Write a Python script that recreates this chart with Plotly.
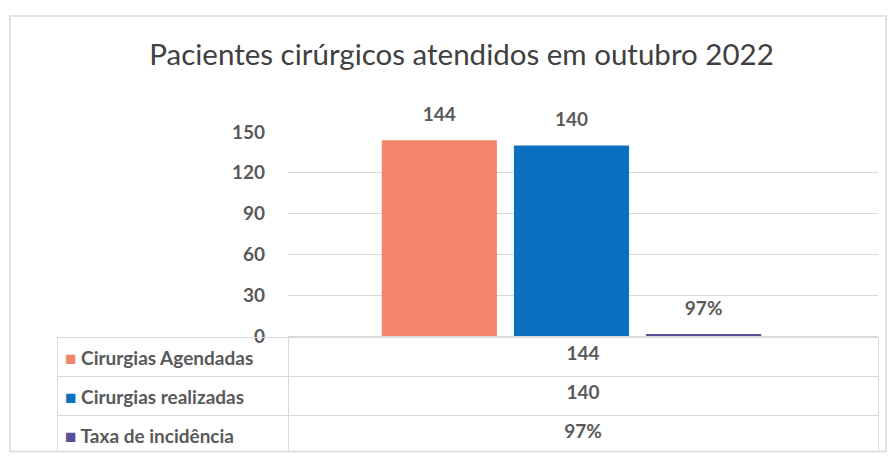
import plotly.graph_objects as go

# dados do gráfico
categoria = ["outubro 2022"]
series = ["Cirurgias Agendadas", "Cirurgias realizadas", "Taxa de incidência"]
valores = [144, 140, 0.97]
rotulos = ["144", "140", "97%"]
cores = ["#F4856D", "#0C70C0", "#5B4C9A"]
y_ticks = [0, 30, 60, 90, 120, 150]

# a figura aparece deslocada 8px na página (margem do body)
W, H = 888, 455
ml, mr, mt, mb = 49, 18, 124, 1
pw, ph = W - ml - mr, H - mt - mb
plot_left, axis_y, table_top = 280, 335, 337
x_dom0 = (plot_left - ml) / pw
y_dom0 = (H - mb - axis_y) / ph

fig = go.Figure()
for nome, v, r, c in zip(series, valores, rotulos, cores):
    fig.add_trace(go.Bar(
        x=categoria, y=[v], name=nome, text=[r],
        # linha vazia embaixo só para afastar o rótulo da barra
        texttemplate="<span style=\"font-size:19px\">%{text}</span><br> ",
        textposition="outside", cliponaxis=False,
        marker=dict(color=c, line=dict(width=0)),
        textfont=dict(family="Lato", size=11, color="#595959", weight="bold"),
        showlegend=False,
    ))

# tabela de dados abaixo do gráfico (primeira linha vai no header)
chave = ["<span style=\"color:%s\">■</span> %s<br>" % (c, n) for c, n in zip(cores, series)]
fonte_tab = dict(family="Lato", size=19, color="#595959", weight="bold")
sem_fundo = "rgba(0,0,0,0)"
fig.add_trace(go.Table(
    domain=dict(x=[0, 1], y=[0, (H - mb - table_top) / ph]),
    columnwidth=[plot_left - ml, W - mr - plot_left],
    header=dict(values=[chave[0], rotulos[0]], align=["left", "center"], height=39,
                fill_color=sem_fundo, line_color="#D9D9D9", font=fonte_tab),
    cells=dict(values=[chave[1:], rotulos[1:]], align=["left", "center"], height=39,
               fill_color=sem_fundo, line_color="#D9D9D9", font=fonte_tab),
))

fig.update_layout(
    width=W, height=H,
    margin=dict(l=ml, r=mr, t=mt, b=mb),
    paper_bgcolor="white", plot_bgcolor="white",
    barmode="group", bargap=0.328, bargroupgap=0.129,
    title=dict(text="Pacientes cirúrgicos atendidos em outubro 2022",
               x=0.5 - 6 / pw, xref="paper", y=1 - 47 / H, yanchor="middle",
               font=dict(family="Lato", size=29.5, color="#404040")),
    xaxis=dict(domain=[x_dom0, 1], type="category", range=[-0.4805, 0.5195],
               showticklabels=False, showline=True, linecolor="#D9D9D9",
               showgrid=False, ticks=""),
    yaxis=dict(domain=[y_dom0, 1], range=[0, 150], tickvals=y_ticks,
               gridcolor="#D9D9D9", zeroline=False, ticks="",
               ticklabelstandoff=22,
               tickfont=dict(family="Lato", size=19, color="#595959", weight="bold")),
    shapes=[dict(type="rect", xref="paper", yref="paper",
                 x0=(2 - ml) / pw, x1=(878 - ml) / pw,
                 y0=-0.5 / ph, y1=(H - mb - 4) / ph,
                 line=dict(color="#D9D9D9", width=1.5))],
)

fig.write_html("out.html")
